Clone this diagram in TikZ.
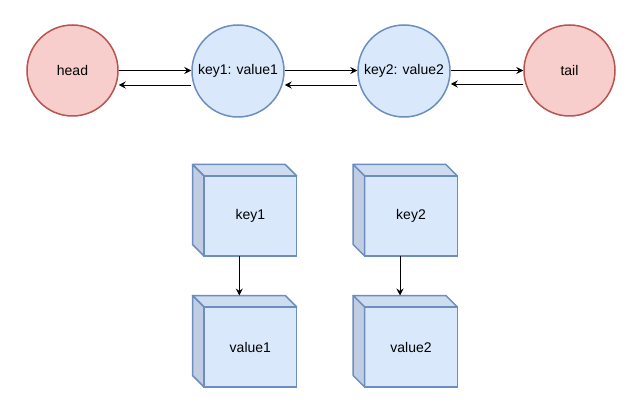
\documentclass[tikz,border=0pt]{standalone}
\usepackage{fontspec}
\setmainfont{Liberation Sans}
\usetikzlibrary{arrows.meta}
\definecolor{rfill}{HTML}{F8CECC}
\definecolor{rstroke}{HTML}{B85450}
\definecolor{bfill}{HTML}{DAE8FC}
\definecolor{bstroke}{HTML}{6C8EBF}
\definecolor{btop}{HTML}{CEDCF0}
\definecolor{bleft}{HTML}{C1CDE2}
\tikzset{
  nodefont/.style={font=\fontsize{14}{16}\selectfont},
  redcirc/.style={circle, draw=rstroke, fill=rfill, line width=1.5pt, minimum size=91pt, inner sep=0pt, nodefont},
  bluecirc/.style={circle, draw=bstroke, fill=bfill, line width=1.5pt, minimum size=92pt, inner sep=0pt, nodefont},
  cubefront/.style={rectangle, draw=bstroke, fill=bfill, line width=1.5pt, minimum width=92.7pt, minimum height=80pt, inner sep=0pt, outer sep=0pt, nodefont},
  cubeside/.style={draw=bstroke, line width=1.5pt, line join=round},
  arr/.style={-{Stealth[length=7pt,width=7pt,inset=2.5pt]}, line width=0.9pt, black}
}
\newcommand\mycube[4]{%
  \node[cubefront] (#1) at (#2,#3) {#4};
  \filldraw[cubeside, fill=btop] (#1.north west) -- ++(-11.5,-11.5) -- ([shift={(-11.5,-11.5)}]#1.north east) -- (#1.north east) -- cycle;
  \filldraw[cubeside, fill=bleft] (#1.north west) -- ++(-11.5,-11.5) -- ([shift={(-11.5,-11.5)}]#1.south west) -- (#1.south west) -- cycle;
  \draw[cubeside] (#1.north west) rectangle (#1.south east);
}
\begin{document}
\begin{tikzpicture}[x=1pt, y=-1pt]
\useasboundingbox (0,0) rectangle (639,403);
\node[redcirc] (head) at (72.5,70.5) {head};
\node[bluecirc] (k1) at (238,71) {key1: value1};
\node[bluecirc] (k2) at (404,71) {key2: value2};
\node[redcirc] (tail) at (569.5,70.5) {tail};

\draw[arr] (head.east |- 0,70.5) -- (k1.west |- 0,70.5);
\draw[arr] (k1.west |- 0,85) -- (head.east |- 0,85);
\draw[arr] (k1.east |- 0,70.5) -- (k2.west |- 0,70.5);
\draw[arr] (k2.west |- 0,85) -- (k1.east |- 0,85);
\draw[arr] (k2.east |- 0,70.5) -- (tail.west |- 0,70.5);
\draw[arr] (tail.west |- 0,84) -- (k2.east |- 0,84);

\mycube{c1}{250.35}{216}{key1}
\mycube{c2}{411}{216}{key2}
\mycube{v1}{250.35}{347}{value1}
\mycube{v2}{411}{347}{value2}

\draw[arr] ([xshift=-11pt]c1.south) -- ([shift={(-11,-11.5)}]v1.north);
\draw[arr] ([xshift=-11pt]c2.south) -- ([shift={(-11,-11.5)}]v2.north);
\end{tikzpicture}
\end{document}
